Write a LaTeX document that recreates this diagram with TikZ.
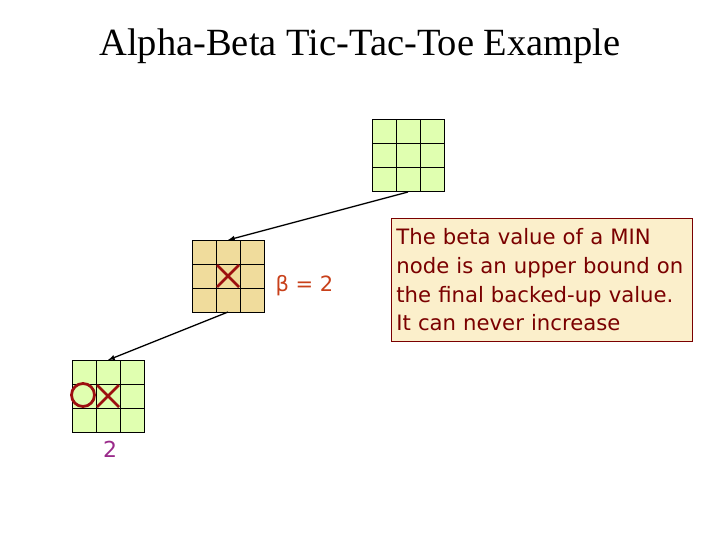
\documentclass[tikz,border=0pt]{standalone}
\usepackage{fontspec}
\setmainfont{Liberation Serif}
\newfontfamily\notefont{DejaVu Sans}
\usetikzlibrary{positioning,calc}
\definecolor{boardgreen}{HTML}{E0FFB0}
\definecolor{boardtan}{HTML}{F0DC9C}
\definecolor{markred}{HTML}{9C1010}
\definecolor{notefill}{HTML}{FBEFCB}
\definecolor{notetext}{HTML}{7A0000}
\definecolor{betared}{HTML}{C8401A}
\definecolor{valpurple}{HTML}{9A2A8A}
\tikzset{
    board/.style={draw=black, line width=1pt, minimum size=72pt, inner sep=0pt, outer sep=0pt},
    xomark/.style={draw=markred, line width=2.8pt},
}
\begin{document}
\begin{tikzpicture}[x=1pt, y=-1pt]
        \useasboundingbox (0,0) rectangle (720,540);
        \node[font=\fontsize{38.5}{40}\selectfont] (title) at (360,46) {Alpha-Beta Tic-Tac-Toe Example};

        \node[board, fill=boardgreen] (root) at (408,156) {};
        \node[board, fill=boardtan] (minnode) at (228,276) {};
        \node[board, fill=boardgreen] (leaf) at (108,396) {};

        % grid lines of the three boards
        \foreach \b in {root,minnode,leaf} {
            \foreach \i in {1,2} {
                \draw [black, line width=1pt] ($(\b.north west)+(24*\i,0)$) -- ($(\b.south west)+(24*\i,0)$);
                \draw [black, line width=1pt] ($(\b.north west)+(0,24*\i)$) -- ($(\b.north east)+(0,24*\i)$);
            }
        }

        % marks
        \draw [xomark] (217,265) -- (239,287);
        \draw [xomark] (239,265) -- (217,287);
        \draw [xomark] (97,385) -- (119,407);
        \draw [xomark] (119,385) -- (97,407);
        \draw [xomark] (83,395) circle (11.5);

        \draw [black, line width=1.3pt, >=latex, ->] (root.south) -- (minnode.north);
        \draw [black, line width=1.3pt, >=latex, ->] (minnode.south) -- (leaf.north);

        \node[text=betared, font=\notefont\fontsize{21}{24}\selectfont, right=8pt of minnode, yshift=-10pt] (beta) {β = 2};
        \node[text=valpurple, font=\notefont\fontsize{22}{24}\selectfont, below=6pt of leaf, xshift=2pt] (val) {2};

        \node[draw=notetext, line width=0.8pt, fill=notefill, text=notetext, align=left,
              font=\notefont\fontsize{21.2}{28.6}\selectfont, inner xsep=5pt, text width=291pt,
              minimum height=123pt, anchor=north west] (note) at (391,218)
              {The beta value of a MIN\\node is an upper bound on\\the final backed-up value.\\It can never increase};
    \end{tikzpicture}
\end{document}
